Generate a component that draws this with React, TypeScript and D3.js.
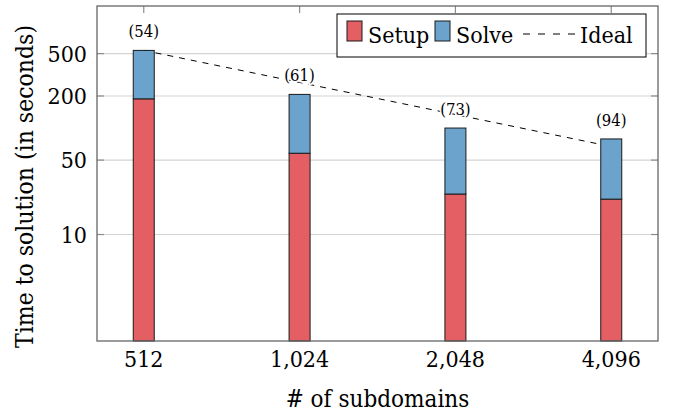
import React, { useEffect } from 'react';
import * as d3 from 'd3';

const subdomains = ['512', '1,024', '2,048', '4,096'];
const setupTime = [188, 58, 24, 21.5];
const solveTime = [348, 149, 76, 57.5];
const idealTime = [536, 268, 134, 67];
const iterationLabels = ['(54)', '(61)', '(73)', '(94)'];
const yTicks = [10, 50, 200, 500];

const W = 673;
const H = 412;
const margin = { top: 6, right: 15, bottom: 71, left: 97 };
const FONT = "'DejaVu Serif Condensed', 'DejaVu Serif', serif";
const RED = '#E35F64';
const BLUE = '#6BA3CD';

const App: React.FC = () => {
  useEffect(() => {
    document.body.style.margin = '0';
  }, []);

  const x0 = margin.left;
  const x1 = W - margin.right;
  const y0 = H - margin.bottom;
  const y1 = margin.top;

  const x = d3.scalePoint<string>().domain(subdomains).range([x0, x1]).padding(0.3);
  const y = d3.scaleLog().domain([1, 1400]).range([y0, y1]);
  const barW = 21;

  const idealLine = d3
    .line<number>()
    .x((_d, i) => x(subdomains[i]) as number)
    .y(d => y(d));

  return (
    <svg width={W} height={H} style={{ display: 'block', background: '#fff' }}>
      <g fontFamily={FONT} style={{ fontStretch: 'condensed' }}>
      {/* grid */}
      {yTicks.map(t => (
        <line key={'g' + t} x1={x0} x2={x1} y1={y(t)} y2={y(t)} stroke="#d4d4d4" strokeWidth={1.2} />
      ))}
      {/* y tick marks, inside left and right */}
      {yTicks.map(t => (
        <g key={'t' + t} stroke="#8c8c8c" strokeWidth={1.2}>
          <line x1={x0} x2={x0 + 7} y1={y(t)} y2={y(t)} />
          <line x1={x1 - 7} x2={x1} y1={y(t)} y2={y(t)} />
        </g>
      ))}
      {/* x tick marks at top */}
      {subdomains.map(s => (
        <line key={'xt' + s} x1={x(s)} x2={x(s)} y1={y1} y2={y1 + 7} stroke="#8c8c8c" strokeWidth={1.2} />
      ))}

      {/* ideal scaling */}
      <path d={idealLine(idealTime) || ''} fill="none" stroke="#000" strokeWidth={1} strokeDasharray="6,6" />

      {/* stacked bars */}
      {subdomains.map((s, i) => {
        const cx = x(s) as number;
        const total = setupTime[i] + solveTime[i];
        return (
          <g key={'b' + s} stroke="#1a1a1a" strokeWidth={1}>
            <rect x={cx - barW / 2} y={y(setupTime[i])} width={barW} height={y0 - y(setupTime[i])} fill={RED} />
            <rect x={cx - barW / 2} y={y(total)} width={barW} height={y(setupTime[i]) - y(total)} fill={BLUE} />
          </g>
        );
      })}

      {/* iteration counts */}
      {subdomains.map((s, i) => (
        <text
          key={'l' + s}
          x={x(s)}
          y={y(setupTime[i] + solveTime[i]) - 13}
          textAnchor="middle"
          fontSize={16.5}
          stroke="#fff"
          strokeWidth={3}
          style={{ paintOrder: 'stroke' }}
        >
          {iterationLabels[i]}
        </text>
      ))}

      {/* frame */}
      <rect x={x0} y={y1} width={x1 - x0} height={y0 - y1} fill="none" stroke="#666" strokeWidth={1.3} />

      {/* y tick labels */}
      {yTicks.map(t => (
        <text key={'yl' + t} x={x0 - 10} y={y(t)} dy="0.35em" textAnchor="end" fontSize={23}>
          {t}
        </text>
      ))}
      {/* x tick labels */}
      {subdomains.map(s => (
        <text key={'xl' + s} x={x(s)} y={y0 + 26} textAnchor="middle" fontSize={23}>
          {s}
        </text>
      ))}

      {/* axis titles */}
      <text x={(x0 + x1) / 2} y={H - 5} textAnchor="middle" fontSize={24}>
        # of subdomains
      </text>
      <text transform={`translate(33, ${(y0 + y1) / 2 + 13}) rotate(-90)`} textAnchor="middle" fontSize={24.5}>
        Time to solution (in seconds)
      </text>

      {/* legend */}
      <g>
        <rect x={337} y={14} width={309} height={43} fill="#fff" stroke="#000" strokeWidth={1} />
        <rect x={347} y={21} width={15} height={20} fill={RED} stroke="#1a1a1a" strokeWidth={1} />
        <text x={368} y={43} fontSize={23}>Setup</text>
        <rect x={435} y={21} width={15} height={20} fill={BLUE} stroke="#1a1a1a" strokeWidth={1} />
        <text x={456} y={43} fontSize={23}>Solve</text>
        <line x1={523} x2={575} y1={34} y2={34} stroke="#000" strokeWidth={1} strokeDasharray="7,8" />
        <text x={580} y={43} fontSize={23}>Ideal</text>
      </g>
      </g>
    </svg>
  );
};

export default App;
